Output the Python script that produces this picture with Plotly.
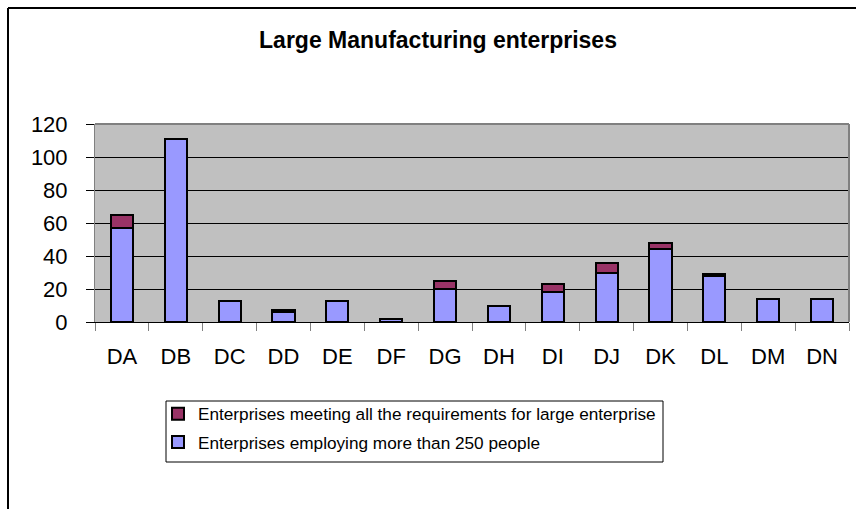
import plotly.graph_objects as go

# Manufacturing sub-sections
categories = ["DA", "DB", "DC", "DD", "DE", "DF", "DG", "DH", "DI", "DJ", "DK", "DL", "DM", "DN"]
# Enterprises employing more than 250 people
employing_250 = [57, 111, 13, 6, 13, 2, 20, 10, 18, 30, 44, 28, 14, 14]
# Additional enterprises meeting all the requirements for large enterprise
meeting_all = [8, 0, 0, 1, 0, 0, 5, 0, 5, 6, 4, 1, 0, 0]

y_ticks = [0, 20, 40, 60, 80, 100, 120]

W, H = 856, 509
L, R, T, B = 95, 7, 124, 187
plot_w = W - L - R
plot_h = H - T - B

font = "Liberation Sans, Arial, sans-serif"

fig = go.Figure()
fig.add_trace(go.Bar(
    x=categories, y=employing_250,
    name="Enterprises employing more than 250 people",
    legendgroup="emp", legendrank=2,
    marker=dict(color="#9999FF", line=dict(color="black", width=2)),
))
fig.add_trace(go.Bar(
    x=categories, y=meeting_all,
    name="Enterprises meeting all the requirements for large enterprise",
    legendgroup="req", legendrank=1,
    marker=dict(color="#993366", line=dict(color="black", width=2)),
))


def px_x(px):
    return (px - L) / plot_w


def px_y(py):
    return (H - B - py) / plot_h


fig.update_layout(
    width=W, height=H,
    margin=dict(l=L, r=R, t=T, b=B, pad=0),
    barmode="stack",
    bargap=0.59,
    paper_bgcolor="white",
    plot_bgcolor="#C0C0C0",
    font=dict(family=font, color="black", size=22),
    title=dict(
        text="<b>Large Manufacturing enterprises</b>",
        x=438 / W, xref="container", xanchor="center",
        y=1 - 40 / H, yref="container", yanchor="middle",
        font=dict(family=font, size=23, color="black"),
    ),
    legend=dict(
        x=px_x(158), y=px_y(396), xref="paper", yref="paper",
        xanchor="left", yanchor="top",
        borderwidth=0,
        bgcolor="rgba(0,0,0,0)",
        font=dict(family=font, size=17.2),
        traceorder="grouped",
        tracegroupgap=3,
    ),
    xaxis=dict(
        type="category",
        tickson="boundaries",
        ticks="outside", ticklen=8, tickcolor="#808080", tickwidth=1,
        showline=True, linecolor="black", linewidth=1, mirror=False,
        showgrid=False,
        ticklabelstandoff=15,
        tickfont=dict(size=22),
    ),
    yaxis=dict(
        range=[0, 120],
        tickvals=y_ticks,
        ticks="outside", ticklen=8, tickcolor="black", tickwidth=1,
        showline=True, linecolor="#808080", linewidth=1,
        showgrid=True, gridcolor="black", gridwidth=1,
        zeroline=False,
        ticklabelstandoff=14,
        tickfont=dict(size=22),
    ),
    shapes=[
        # grey border around the plotting area (top and right)
        dict(type="line", xref="paper", yref="paper", x0=0, x1=1, y0=1, y1=1,
             line=dict(color="#808080", width=2)),
        dict(type="line", xref="paper", yref="paper", x0=1, x1=1, y0=0, y1=1,
             line=dict(color="#808080", width=2)),
        # legend box
        dict(type="rect", xref="paper", yref="paper",
             x0=px_x(166), x1=px_x(663), y0=px_y(462), y1=px_y(401),
             line=dict(color="black", width=1), layer="below"),
        # outer chart frame
        dict(type="line", xref="paper", yref="paper",
             x0=px_x(8), x1=px_x(8), y0=px_y(8), y1=px_y(H + 20),
             line=dict(color="black", width=2)),
        dict(type="line", xref="paper", yref="paper",
             x0=px_x(8), x1=px_x(W + 20), y0=px_y(8), y1=px_y(8),
             line=dict(color="black", width=2)),
    ],
)

fig.write_html("out.html")
